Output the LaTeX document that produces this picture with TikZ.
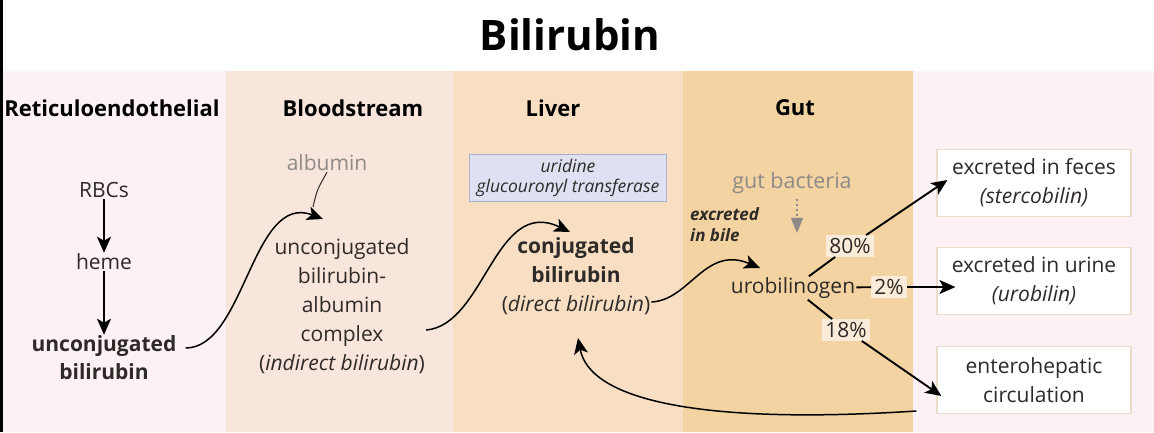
\documentclass[tikz,border=0pt]{standalone}
\usepackage{fontspec}
\setmainfont{Open Sans}
\usetikzlibrary{arrows.meta}
\usetikzlibrary{positioning}

\definecolor{retpink}{HTML}{FCF1F5}
\definecolor{bloodpeach}{HTML}{F8E6DC}
\definecolor{liverbeige}{HTML}{F8DFC3}
\definecolor{guttan}{HTML}{F4D3A2}
\definecolor{enzfill}{HTML}{DDE1F1}
\definecolor{enzline}{HTML}{A8B0CC}
\definecolor{boxline}{HTML}{EADBCB}
\definecolor{pctfill}{HTML}{FBECD9}
\definecolor{ink}{HTML}{2E2A28}
\definecolor{faint}{HTML}{8E8A88}

\begin{document}
\begin{tikzpicture}[x=1pt,y=-1pt,
  body/.style={font=\fontsize{21}{29}\selectfont,text=ink,align=center,inner sep=1pt},
  head/.style={font=\fontsize{22}{26}\selectfont\bfseries,text=black},
  outbox/.style={body,draw=boxline,line width=1.2pt,fill=white,minimum width=194pt,minimum height=67pt},
  pct/.style={body,fill=pctfill,inner sep=3pt},
  flow/.style={-{Stealth[length=16pt,width=14pt,inset=4pt]},line width=1.9pt},
  link/.style={line width=1.9pt}]
\useasboundingbox (0,0) rectangle (1154,432);
\fill[white] (0,0) rectangle (1154,432);
% bands
\fill[retpink] (0,71) rectangle (226,432);
\fill[bloodpeach] (226,71) rectangle (453,432);
\fill[liverbeige] (453,71) rectangle (683,432);
\fill[guttan] (683,71) rectangle (913,432);
\fill[retpink] (913,71) rectangle (1154,432);
\fill[black] (0,0) rectangle (3,432);

\node[font=\fontsize{42}{50}\selectfont\bfseries] (title) at (570,35) {Bilirubin};
\node[head] (hret) at (112,108) {Reticuloendothelial};
\node[head] (hblood) at (353,108) {Bloodstream};
\node[head] (hliver) at (553,108) {Liver};
\node[head] (hgut) at (795,108) {Gut};

% reticuloendothelial
\node[body] (rbc) at (104,190) {RBCs};
\node[body] (heme) at (104,262) {heme};
\node[body,font=\fontsize{21}{28}\selectfont\bfseries] (unc) at (104,358) {unconjugated\\bilirubin};
\draw[flow] (rbc) -- (heme);
\draw[flow] (heme) -- (unc);

% bloodstream
\node[body,text=faint] (alb) at (327,163) {albumin};
\node[body] (cmplx) at (342,306) {unconjugated\\bilirubin-\\albumin\\complex\\(\textit{indirect bilirubin})};
\coordinate (albtip) at (323,219);
\coordinate (albend) at (313,207);
\draw[line width=1pt,ink] (alb.south) .. controls (317,190) .. (albend);
\draw[flow,line width=1.5pt] ([xshift=8pt,yshift=10pt]unc.east) .. controls (245,348) and (252,192) .. (albtip);

% liver
\node[body,font=\fontsize{17.5}{20}\selectfont\itshape,fill=enzfill,draw=enzline,line width=1pt,minimum width=197pt,minimum height=47pt] (enz) at (568,178) {uridine\\glucouronyl transferase};
\node[body] (conj) at (576,276) {\textbf{conjugated}\\\textbf{bilirubin}\\(\textit{direct bilirubin})};
\coordinate (conjtip) at (570,232);
\coordinate (backtip) at (578,338);
\draw[flow,line width=1.5pt] (cmplx.east |- 0,330) .. controls (485,325) and (495,196) .. (conjtip);

% gut
\node[body,text=faint,font=\fontsize{21.5}{25}\selectfont] (bact) at (792,183) {gut bacteria};
\node[body,font=\fontsize{17}{21}\selectfont\bfseries\itshape,align=left,anchor=west] (bile) at (689,225) {excreted\\in bile};
\node[body] (uro) at (793,288) {urobilinogen};
\coordinate (urotip) at (760,268);
\draw[flow,line width=1.5pt] (conj.east |- 0,302) .. controls (690,300) and (705,245) .. (urotip);
\draw[faint,line width=1.4pt,dash pattern=on 2pt off 3pt,-{Triangle[length=15pt,width=12pt]}] (bact.south) ++(5,4) coordinate (bacttop) -- ++(0,34) coordinate (bactend);

\node[pct] (p80) at (850,246) {80\%};
\node[pct] (p2) at (889,287) {2\%};
\node[pct] (p18) at (846,330) {18\%};

% outcomes
\node[outbox] (feces) at (1034,183) {excreted in feces\\\textit{(stercobilin)}};
\node[outbox] (urine) at (1034,281) {excreted in urine\\\textit{(urobilin)}};
\node[outbox] (entero) at (1034,380) {enterohepatic\\circulation};

\draw[link] (uro) -- (p80);
\draw[link] (uro) -- (p2);
\draw[link] (uro) -- (p18);
\draw[flow] (p80) -- ([xshift=11pt,yshift=3pt]feces.west);
\draw[flow] (p2) -- ([xshift=19pt,yshift=-6pt]urine.west);
\draw[flow] (p18) -- ([xshift=5pt,yshift=-16pt]entero.west);
\draw[flow,line width=1.5pt] ([xshift=-20pt,yshift=-31pt]entero.west) .. controls (700,425) and (590,400) .. (backtip);
\end{tikzpicture}
\end{document}
